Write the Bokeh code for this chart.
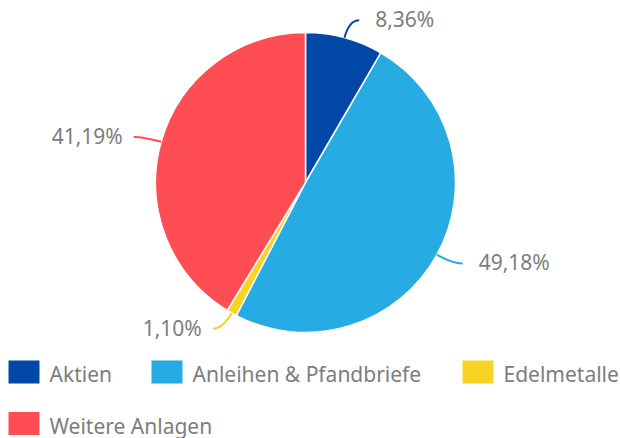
import math
from bokeh.plotting import figure
from bokeh.models import Range1d, ColumnDataSource
from bokeh.core.properties import value
from bokeh.embed import file_html
from bokeh.resources import INLINE

# ---- data ----
categories = ["Aktien", "Anleihen & Pfandbriefe", "Edelmetalle", "Weitere Anlagen"]
shares = [8.36, 49.18, 1.10, 41.19]
share_labels = ["8,36%", "49,18%", "1,10%", "41,19%"]
colors = ["#0047A8", "#26ACE3", "#F9D323", "#FF4E53"]

# ---- layout (page pixels) ----
W, H = 620, 438
CX, CY_PAGE, R = 305, 182, 150
CY = H - CY_PAGE
FONT = "Noto Sans"
TXT = "#7d7d7d"
FS = "21px"

p = figure(width=W, height=H, x_range=Range1d(0, W), y_range=Range1d(0, H),
           output_backend="svg", toolbar_location=None, min_border=0)
p.axis.visible = False
p.grid.visible = False
p.outline_line_color = None

total = sum(shares)
starts, ends, mids = [], [], []
cum = 0.0
for s in shares:
    a0 = math.pi / 2 - 2 * math.pi * (cum + s) / total
    a1 = math.pi / 2 - 2 * math.pi * cum / total
    starts.append(a0)
    ends.append(a1)
    mids.append((a0 + a1) / 2)
    cum += s

src = ColumnDataSource(dict(x=[CX] * 4, y=[CY] * 4, start=starts, end=ends, color=colors, cat=categories))
p.wedge(x="x", y="y", radius=R, start_angle="start", end_angle="end", fill_color="color",
        line_color="white", line_width=1.5, source=src)

# connectors + labels
for ang, lab, col in zip(mids, share_labels, colors):
    ex, ey = CX + R * math.cos(ang), CY + R * math.sin(ang)
    bx, by = CX + (R + 18) * math.cos(ang), CY + (R + 18) * math.sin(ang)
    right = math.cos(ang) >= 0
    tx = bx + (10 if right else -10)
    p.quadratic(x0=[ex], y0=[ey], x1=[tx], y1=[by], cx=[bx], cy=[by], line_color=col, line_width=2)
    p.text(x=[tx + (16 if right else -11)], y=[by + 1], text=[lab], text_font=value(FONT),
           text_font_size=FS, text_color=TXT, text_align="left" if right else "right",
           text_baseline="middle")

# legend (manual, wrapped like the original)
leg_x = [8, 151, 462, 8]
leg_y_page = [371.5, 423]
leg_row = [0, 0, 0, 1]
SW, SH = 31, 23
for cat, col, lx, row in zip(categories, colors, leg_x, leg_row):
    yc = H - leg_y_page[row]
    p.rect(x=[lx + SW / 2], y=[yc], width=SW, height=SH, fill_color=col, line_color=None)
    p.text(x=[lx + SW + 10], y=[yc - 2], text=[cat], text_font=value(FONT), text_font_size=FS,
           text_color=TXT, text_align="left", text_baseline="middle")

open("out.html", "w").write(file_html(p, INLINE))
